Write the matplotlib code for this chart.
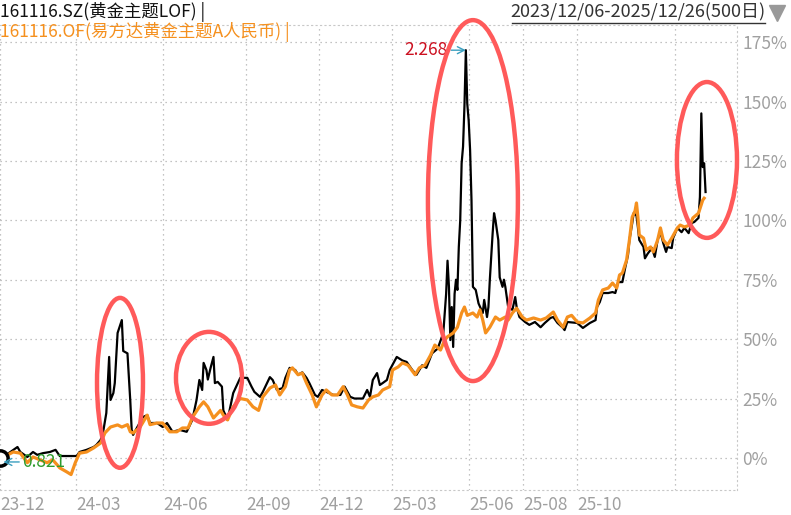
import matplotlib
matplotlib.use("Agg")
import matplotlib.pyplot as plt
from matplotlib.patches import Ellipse
from matplotlib.lines import Line2D

plt.rcParams['font.family'] = ['Noto Sans CJK SC', 'DejaVu Sans']

# 161116.SZ market price, % change vs first day (trading-day index)
sz_day = [0, 11, 13, 18, 22, 25, 29, 34, 38, 41,
          53, 55, 60, 65, 67, 70, 72, 74, 76, 77,
          79, 80, 82, 85, 86, 89, 91, 92, 93, 96,
          100, 103, 105, 110, 114, 117, 121, 126, 131, 135,
          138, 140, 142, 143, 145, 146, 148, 150, 151, 153,
          156, 157, 160, 164, 169, 174, 177, 179, 183, 185,
          190, 192, 195, 199, 201, 204, 208, 210, 213, 216,
          218, 222, 224, 227, 230, 235, 240, 243, 247, 250,
          256, 259, 261, 263, 266, 268, 270, 273, 275, 280,
          284, 287, 291, 294, 298, 301, 305, 309, 313, 315,
          316, 317, 318, 319, 320, 321, 322, 323, 324, 325,
          326, 327, 328, 329, 330, 331, 332, 333, 334, 336,
          338, 341, 342, 344, 345, 346, 348, 349, 350, 352,
          353, 355, 356, 357, 359, 362, 364, 365, 367, 371,
          374, 378, 382, 385, 389, 391, 394, 398, 399, 401,
          408, 412, 417, 421, 422, 424, 426, 430, 433, 435,
          437, 440, 442, 444, 445, 447, 448, 450, 451, 452,
          455, 456, 458, 461, 463, 465, 467, 469, 471, 472,
          475, 476, 479, 482, 484, 487, 489, 491, 494, 495,
          496, 497, 498, 499]
sz_pct = [0, 4.6, 2.5, 0.4, 2.5, 1.3, 2.0, 2.5, 3.4, 0.8,
          0.8, 2.5, 3.4, 4.6, 5.5, 7.6, 11.8, 18.9, 42.5, 24.4,
          27.3, 31.5, 52.6, 58.0, 45.0, 44.0, 24.0, 11.8, 9.7, 13.0,
          17.2, 18.0, 14.7, 14.7, 13.0, 14.7, 11.0, 11.8, 11.0, 16.0,
          24.4, 32.8, 28.6, 40.0, 37.0, 33.0, 38.0, 42.5, 31.5, 32.0,
          30.0, 20.0, 16.0, 27.3, 33.7, 33.7, 30.0, 27.8, 25.7, 27.8,
          34.0, 32.8, 28.6, 29.4, 33.7, 37.9, 37.0, 35.0, 36.0, 33.7,
          31.5, 26.5, 25.7, 28.6, 27.8, 26.5, 26.5, 30.0, 25.7, 25.0,
          25.0, 28.6, 25.7, 32.8, 35.7, 30.7, 31.5, 32.8, 37.0, 42.5,
          41.0, 40.4, 37.0, 35.0, 39.0, 37.9, 44.0, 46.0, 52.6, 69.0,
          83.0, 72.0, 49.6, 63.5, 46.7, 69.0, 75.0, 70.7, 88.8, 100.0,
          124.0, 131.0, 148.0, 171.6, 149.0, 142.0, 129.6, 108.5, 72.0, 70.7,
          65.0, 61.0, 66.5, 59.3, 63.5, 75.0, 94.6, 103.0, 100.0, 91.7,
          76.0, 72.0, 75.0, 72.0, 63.5, 62.3, 67.7, 63.5, 59.3, 57.2,
          56.0, 57.2, 55.0, 56.8, 58.9, 59.3, 56.8, 54.7, 53.8, 57.2,
          56.8, 54.7, 56.8, 58.0, 63.5, 65.6, 69.4, 69.4, 69.8, 69.4,
          74.0, 74.0, 80.0, 85.4, 91.7, 98.8, 103.0, 102.0, 97.2, 91.7,
          88.8, 84.0, 86.0, 88.3, 84.6, 91.7, 95.0, 90.4, 86.7, 88.8,
          88.3, 92.5, 96.8, 95.0, 96.8, 94.6, 98.8, 99.3, 101.0, 109.8,
          145.0, 122.4, 124.0, 111.9]

# 161116.OF net asset value, % change
of_day = [0, 8, 13, 18, 22, 27, 32, 36, 41, 46,
          49, 52, 55, 60, 65, 70, 73, 77, 82, 85,
          89, 91, 93, 98, 103, 105, 110, 114, 119, 124,
          128, 132, 135, 140, 143, 146, 150, 155, 157, 160,
          164, 169, 174, 178, 182, 185, 190, 194, 197, 201,
          204, 206, 210, 213, 216, 220, 223, 227, 230, 234,
          238, 242, 245, 248, 252, 256, 260, 263, 267, 270,
          275, 277, 281, 284, 288, 293, 296, 300, 304, 307,
          311, 314, 316, 320, 323, 326, 328, 330, 334, 337,
          339, 341, 343, 346, 350, 353, 357, 359, 362, 365,
          369, 372, 377, 382, 386, 391, 394, 398, 401, 404,
          408, 412, 417, 421, 423, 426, 430, 433, 436, 438,
          440, 443, 445, 447, 449, 450, 451, 452, 455, 457,
          460, 462, 465, 467, 469, 472, 475, 479, 481, 484,
          488, 490, 494, 497, 498]
of_pct = [0, 2.5, 2.0, -2.0, 0.4, -0.8, -2.0, -0.8, -4.2, -5.9,
          -7.0, -2.0, 2.0, 2.5, 4.2, 6.3, 10.5, 13.0, 13.9, 13.0,
          14.0, 11.0, 10.5, 13.0, 18.0, 14.0, 14.7, 14.7, 11.0, 11.0,
          12.6, 12.6, 17.0, 21.5, 23.6, 21.5, 16.8, 20.0, 18.0, 16.0,
          21.5, 25.0, 24.4, 21.5, 20.0, 25.7, 29.4, 30.7, 26.5, 30.0,
          37.0, 37.9, 35.0, 35.7, 31.5, 26.5, 21.5, 26.5, 28.6, 26.5,
          26.5, 30.0, 26.5, 22.3, 21.5, 21.0, 24.4, 25.7, 26.5, 28.6,
          30.0, 37.0, 38.3, 40.0, 39.0, 35.0, 37.9, 39.0, 43.3, 47.5,
          45.4, 49.6, 51.0, 52.6, 55.0, 61.0, 63.5, 60.0, 61.0, 59.3,
          62.3, 58.0, 52.6, 55.0, 59.3, 58.0, 59.3, 58.0, 61.0, 63.0,
          59.3, 58.0, 58.9, 58.0, 58.9, 61.4, 58.0, 55.0, 59.3, 60.0,
          57.2, 56.8, 58.9, 61.0, 66.5, 70.7, 71.5, 73.6, 71.5, 77.0,
          77.8, 83.3, 91.7, 101.4, 104.0, 107.3, 101.4, 93.8, 92.5, 87.5,
          88.8, 86.7, 91.7, 96.8, 91.7, 89.6, 92.5, 96.8, 98.0, 97.2,
          98.0, 101.0, 103.0, 108.5, 109.3]

tick_day = [-1.4, 52.5, 114.2, 173, 224.8, 276.6, 331.2, 369.5, 407.8, 477.3]
tick_lbl = ['23-12', '24-03', '24-06', '24-09', '24-12', '25-03', '25-06', '25-08', '25-10', '']
yticks = [0, 25, 50, 75, 100, 125, 150, 175]

peak_day, peak_val, peak_txt = 329, 171.6, '2.268'
low_day, low_val, low_txt = 1, -1.7, '0.821'

W, H = 791, 515
fig = plt.figure(figsize=(W / 100, H / 100), dpi=100)
ax = fig.add_axes([0, 25 / H, 737 / W, 465 / H])

ax.plot(sz_day, sz_pct, color='black', lw=1.6, zorder=3)
ax.plot(of_day, of_pct, color='#f5901e', lw=2.3, zorder=4)

ax.set_xlim(-1.4, 521.3)
ax.set_ylim(-13.5, 182.2)

ax.yaxis.tick_right()
ax.set_yticks(yticks)
ax.set_yticklabels([f'{v}%' for v in yticks], color='#a0a0a0', fontsize=12.5)
ax.set_xticks(tick_day)
ax.set_xticklabels(tick_lbl, color='#a0a0a0', fontsize=12.5)
for lbl in ax.get_xticklabels():
    lbl.set_ha('left')
ax.tick_params(axis='both', length=0)
ax.tick_params(axis='y', pad=4)
ax.tick_params(axis='x', pad=4)
ax.grid(True, linestyle=(0, (1, 3)), color='#b0b0b0', lw=0.9)

for s in ['top', 'right', 'bottom']:
    ax.spines[s].set_linestyle((0, (1, 3)))
    ax.spines[s].set_color('#c8c8c8')
ax.spines['left'].set_visible(False)

# start / low marker
ax.plot([-1.4], [0], marker='o', ms=11, mfc='white', mec='black', mew=2.5, zorder=5)
ax.annotate(low_txt, xy=(low_day, low_val), xytext=(14.2, low_val),
            ha='left', va='center', color='#2e9c2e', fontsize=12.5,
            arrowprops=dict(arrowstyle='->', color='#3a9fbf', lw=1, shrinkA=0, shrinkB=0),
            zorder=6)

# peak label
ax.annotate(peak_txt, xy=(peak_day, peak_val), xytext=(315.6, peak_val),
            ha='right', va='center', color='#cc1020', fontsize=12.5,
            arrowprops=dict(arrowstyle='->', color='#3a9fbf', lw=1, shrinkA=1, shrinkB=0),
            zorder=6)

# hand-drawn highlight ellipses
for cx, cy, w, h in [(83.7, 31.6, 32.6, 71.5), (146.8, 33.7, 46.8, 38.7),
                     (334, 108.3, 63.8, 151.9), (500, 125.4, 42.6, 65.6)]:
    ax.add_patch(Ellipse((cx, cy), w, h, fill=False, ec='#ff5a5a', lw=3.2,
                         clip_on=False, zorder=7))

# header
fig.text(0, 1 - 12 / H, '161116.SZ(黄金主题LOF) |', color='#111111', fontsize=12.5, va='center')
fig.text(0, 1 - 32 / H, '161116.OF(易方达黄金主题A人民币) |', color='#f5901e', fontsize=12.5, va='center')
fig.text(765 / W, 1 - 12 / H, '2023/12/06-2025/12/26(500日)', color='#333333',
         fontsize=13, va='center', ha='right')
fig.add_artist(Line2D([512 / W, 765 / W], [1 - 23 / H, 1 - 23 / H], color='#333333', lw=1))
fig.add_artist(Line2D([777 / W], [1 - 13 / H], marker='v', ms=12, color='#999999', lw=0))

fig.savefig('out.png', dpi=100)
